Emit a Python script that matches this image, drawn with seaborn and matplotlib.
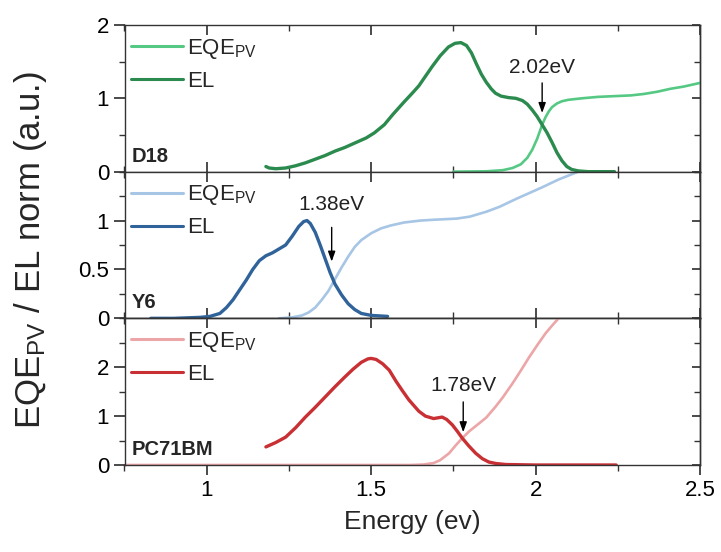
import matplotlib
matplotlib.use("Agg")
import matplotlib.pyplot as plt
import seaborn as sns
import pandas as pd
from matplotlib.ticker import MultipleLocator, FixedLocator

# ---------------- data ----------------
d18_el_e = [1.18, 1.19, 1.21, 1.24, 1.27, 1.30, 1.33, 1.36, 1.39, 1.42, 1.45, 1.485, 1.51, 1.54,
            1.566, 1.60, 1.625, 1.645, 1.665, 1.685, 1.71, 1.735, 1.755, 1.773, 1.79, 1.805,
            1.82, 1.835, 1.85, 1.865, 1.878, 1.895, 1.918, 1.94, 1.96, 1.975, 1.99, 2.005,
            2.02, 2.035, 2.05, 2.065, 2.08, 2.095, 2.11, 2.13, 2.16, 2.24]
d18_el_y = [0.07, 0.05, 0.04, 0.05, 0.08, 0.12, 0.17, 0.22, 0.28, 0.33, 0.39, 0.46, 0.53, 0.64,
            0.78, 0.95, 1.07, 1.17, 1.30, 1.43, 1.58, 1.70, 1.75, 1.76, 1.72, 1.62,
            1.47, 1.33, 1.22, 1.13, 1.07, 1.03, 1.01, 1.00, 0.97, 0.92, 0.84, 0.75,
            0.64, 0.53, 0.40, 0.26, 0.15, 0.07, 0.03, 0.01, 0.0, 0.0]
d18_eqe_e = [1.75, 1.85, 1.90, 1.93, 1.955, 1.975, 1.99, 2.005, 2.02, 2.03, 2.04, 2.05, 2.065,
             2.08, 2.10, 2.14, 2.19, 2.24, 2.29, 2.33, 2.37, 2.41, 2.45, 2.5]
d18_eqe_y = [0.0, 0.005, 0.02, 0.05, 0.10, 0.19, 0.30, 0.45, 0.64, 0.74, 0.82, 0.88, 0.93,
             0.96, 0.98, 1.00, 1.02, 1.03, 1.04, 1.06, 1.09, 1.13, 1.16, 1.21]

y6_el_e = [0.83, 0.90, 0.98, 1.01, 1.04, 1.06, 1.08, 1.10, 1.12, 1.14, 1.16, 1.18, 1.20, 1.22,
           1.24, 1.26, 1.28, 1.295, 1.305, 1.315, 1.33, 1.345, 1.36, 1.375, 1.39, 1.41, 1.43,
           1.45, 1.47, 1.50, 1.55]
y6_el_y = [0.0, 0.0, 0.01, 0.02, 0.05, 0.11, 0.19, 0.29, 0.39, 0.50, 0.59, 0.64, 0.67, 0.71,
           0.75, 0.84, 0.94, 0.99, 1.0, 0.97, 0.88, 0.75, 0.61, 0.47, 0.35, 0.24, 0.15,
           0.09, 0.05, 0.03, 0.02]
y6_eqe_e = [1.22, 1.26, 1.29, 1.31, 1.33, 1.35, 1.37, 1.39, 1.41, 1.43, 1.45, 1.47, 1.50, 1.53,
            1.56, 1.60, 1.65, 1.70, 1.76, 1.80, 1.85, 1.89, 1.94, 1.98, 2.02, 2.07, 2.13, 2.20]
y6_eqe_y = [0.0, 0.01, 0.03, 0.06, 0.11, 0.19, 0.28, 0.40, 0.52, 0.63, 0.73, 0.80, 0.87, 0.92,
            0.95, 0.98, 1.00, 1.01, 1.02, 1.04, 1.09, 1.14, 1.22, 1.28, 1.34, 1.42, 1.50, 1.60]

pc_el_e = [1.18, 1.21, 1.24, 1.27, 1.30, 1.33, 1.36, 1.39, 1.42, 1.445, 1.47, 1.49, 1.50, 1.515,
           1.535, 1.555, 1.575, 1.595, 1.615, 1.645, 1.665, 1.69, 1.716, 1.73, 1.747, 1.762,
           1.777, 1.797, 1.818, 1.838, 1.858, 1.88, 1.91, 2.0, 2.245]
pc_el_y = [0.37, 0.46, 0.57, 0.76, 0.98, 1.18, 1.39, 1.60, 1.80, 1.96, 2.10, 2.17, 2.18, 2.16,
           2.07, 1.94, 1.72, 1.52, 1.33, 1.10, 1.00, 0.95, 0.98, 0.93, 0.82, 0.69,
           0.55, 0.39, 0.24, 0.13, 0.06, 0.03, 0.01, 0.0, 0.0]
pc_eqe_e = [0.75, 1.62, 1.66, 1.69, 1.71, 1.737, 1.757, 1.777, 1.80, 1.828, 1.85, 1.878, 1.90,
            1.93, 1.955, 1.98, 2.005, 2.03, 2.05, 2.07, 2.10]
pc_eqe_y = [0.0, 0.0, 0.01, 0.04, 0.10, 0.24, 0.40, 0.55, 0.70, 0.85, 0.97, 1.19, 1.38,
            1.67, 1.93, 2.20, 2.45, 2.69, 2.85, 3.00, 3.30]

panel_names = ["D18", "Y6", "PC71BM"]
onsets = [2.02, 1.38, 1.78]
onset_labels = ["2.02eV", "1.38eV", "1.78eV"]
ytick_values = [[0, 1, 2], [0, 0.5, 1], [0, 1, 2]]
ytick_labels = [["0", "1", "2"], ["0", "0.5", "1"], ["0", "1", "2"]]
xtick_values = [1, 1.5, 2, 2.5]
xtick_labels = ["1", "1.5", "2", "2.5"]

# ---------------- style ----------------
sns.set_theme(style="ticks")
plt.rcParams["font.family"] = ["Liberation Sans", "DejaVu Sans"]
plt.rcParams["mathtext.fontset"] = "custom"
plt.rcParams["mathtext.rm"] = "Liberation Sans"
plt.rcParams["mathtext.it"] = "Liberation Sans:italic"
plt.rcParams["axes.edgecolor"] = "#333333"
plt.rcParams["axes.linewidth"] = 1.0

fig = plt.figure(figsize=(7.21, 5.52), dpi=100)
L, R, T, B = 124.5 / 721, 700 / 721, 1 - 25 / 552, 1 - 465 / 552
gs = fig.add_gridspec(3, 1, left=L, right=R, top=T, bottom=B, hspace=0)
axes = [fig.add_subplot(gs[i]) for i in range(3)]

series = [
    (d18_eqe_e, d18_eqe_y, d18_el_e, d18_el_y, "#55c983", "#2b8a4e", 2.0, 0.5),
    (y6_eqe_e, y6_eqe_y, y6_el_e, y6_el_y, "#a7c5e4", "#30639a", 1.5, 0.25),
    (pc_eqe_e, pc_eqe_y, pc_el_e, pc_el_y, "#eca6a8", "#c83034", 3.0, 0.5),
]
ann = [
    (1.42, 1.21, 0.80),
    (1.16, 0.93, 0.58),
    (1.63, 1.29, 0.67),
]

TICKC = "#333333"
eqe_label = "EQE$_{\\mathrm{PV}}$"
for i, ax in enumerate(axes):
    ee, ey, le, ly, ceqe, cel, ytop, yminor = series[i]
    df_eqe = pd.DataFrame({"E": ee, "v": ey})
    df_el = pd.DataFrame({"E": le, "v": ly})
    sns.lineplot(data=df_eqe, x="E", y="v", ax=ax, color=ceqe, lw=1.9, label=eqe_label)
    sns.lineplot(data=df_el, x="E", y="v", ax=ax, color=cel, lw=2.4, label="EL")
    ax.set_xlim(0.75, 2.5)
    ax.set_ylim(0, ytop)
    ax.set_xlabel("")
    ax.set_ylabel("")

    # y axis: left ticks outward with labels
    ax.set_yticks(ytick_values[i])
    ax.set_yticklabels(ytick_labels[i])
    ax.yaxis.set_minor_locator(MultipleLocator(yminor))
    ax.tick_params(axis="y", which="both", left=True, right=False, direction="out",
                   labelsize=16, colors=TICKC, labelcolor="black", pad=3)
    ax.tick_params(axis="y", which="major", length=8)
    ax.tick_params(axis="y", which="minor", length=4)
    # right side: inward ticks, no labels
    sy = ax.secondary_yaxis("right")
    sy.yaxis.set_major_locator(FixedLocator(ytick_values[i]))
    sy.yaxis.set_minor_locator(MultipleLocator(yminor))
    sy.tick_params(axis="y", which="both", direction="in", labelright=False, colors=TICKC)
    sy.tick_params(axis="y", which="major", length=6)
    sy.tick_params(axis="y", which="minor", length=4)
    sy.spines["right"].set_color(TICKC)

    # x axis
    ax.xaxis.set_major_locator(FixedLocator(xtick_values))
    ax.xaxis.set_minor_locator(MultipleLocator(0.25))
    if i < 2:
        ax.tick_params(axis="x", which="both", top=True, bottom=True, direction="in",
                       labelbottom=False, colors=TICKC)
        ax.tick_params(axis="x", which="major", length=7)
        ax.tick_params(axis="x", which="minor", length=4)
    else:
        ax.set_xticks(xtick_values)
        ax.set_xticklabels(xtick_labels)
        ax.tick_params(axis="x", which="both", top=False, bottom=True, direction="out",
                       labelsize=16, colors=TICKC, labelcolor="black", pad=4)
        ax.tick_params(axis="x", which="major", length=7)
        ax.tick_params(axis="x", which="minor", length=4)
        sx = ax.secondary_xaxis("top")
        sx.xaxis.set_major_locator(FixedLocator(xtick_values))
        sx.xaxis.set_minor_locator(MultipleLocator(0.25))
        sx.tick_params(axis="x", which="both", direction="in", labeltop=False, colors=TICKC)
        sx.tick_params(axis="x", which="major", length=7)
        sx.tick_params(axis="x", which="minor", length=4)
        sx.spines["top"].set_color(TICKC)

    leg = ax.legend(loc="upper left", bbox_to_anchor=(0.0, 0.965), frameon=False,
                    fontsize=16, handlelength=2.35, handletextpad=0.15,
                    borderaxespad=0.0, labelspacing=0.45, borderpad=0.3)
    for h in leg.get_lines():
        h.set_linewidth(2.2)

    ax.text(0.012, 0.04, panel_names[i], transform=ax.transAxes, fontsize=14.5,
            fontweight="bold", ha="left", va="bottom")

    ty, ys, yt = ann[i]
    ax.text(onsets[i], ty, onset_labels[i], ha="center", va="center", fontsize=15,
            color="#222222")
    ax.annotate("", xy=(onsets[i], yt), xytext=(onsets[i], ys),
                arrowprops=dict(arrowstyle="-|>,head_length=0.5,head_width=0.18",
                                color="black", lw=1.0, shrinkA=0, shrinkB=0))

axes[2].set_xlabel("Energy (ev)", fontsize=19, labelpad=6)
fig.text(31 / 721, 1 - 250 / 552, "EQE$_{\\mathrm{PV}}$ / EL norm (a.u.)", rotation=90,
         ha="center", va="center", fontsize=25)

fig.savefig("out.png", dpi=100)
